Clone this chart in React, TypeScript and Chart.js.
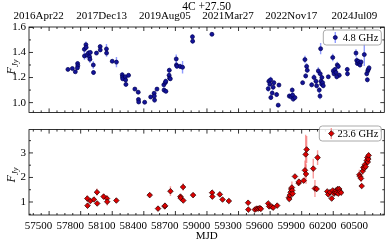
import React, { useEffect, useRef } from 'react';
import { Chart, registerables } from 'chart.js';
Chart.register(...registerables);

const TITLE = '4C +27.50';
const X_TITLE = 'MJD';
const Y_TITLE_MAIN = 'F';
const Y_TITLE_SUB = 'Jy';
const X_MIN = 57409;
const X_MAX = 60785;
const BOTTOM_X_TICKS = [57500, 57800, 58100, 58400, 58700, 59000, 59300, 59600, 59900, 60200, 60500];
const TOP_X_TICKS = [57500, 58100, 58700, 59300, 59900, 60500];
const TOP_X_LABELS = ['2016Apr22', '2017Dec13', '2019Aug05', '2021Mar27', '2022Nov17', '2024Jul09'];
const LOW_Y_TICKS = [1.0, 1.2, 1.4, 1.6];
const HIGH_Y_TICKS = [1, 2, 3];
const LOW_LABEL = '4.8 GHz';
const HIGH_LABEL = '23.6 GHz';

const lowMjd = [
  57779, 57821, 57849, 57871, 57873, 57869, 57935, 57936, 57950, 57952, 57960, 57975, 57985, 57988, 57992,
  58020, 58022, 58050, 58085, 58086, 58145, 58146, 58200, 58240, 58295, 58297, 58299, 58325, 58327, 58330,
  58355, 58415, 58447, 58449, 58451, 58508, 58565, 58598, 58600, 58602, 58625, 58690, 58692, 58705, 58708,
  58710, 58740, 58742, 58745, 58752, 58808, 58810, 58815, 58845, 58868, 58962, 58964, 59147,
  59688, 59705, 59682, 59698, 59720, 59729, 59736, 59707, 59762, 59784, 59777,
  59882, 59898, 59910, 59914, 59920, 59936,
  60009, 60031, 60038, 60047, 60053, 60095, 60117, 60136, 60142, 60158, 60167, 60174, 60180, 60183, 60190,
  60199, 60205, 60176, 60192, 60253, 60295, 60300, 60307, 60316, 60326, 60338, 60348, 60357, 60333,
  60433, 60435, 60516, 60523, 60529, 60538, 60548, 60554, 60564, 60595, 60618, 60628, 60633, 60640, 60624,
];
const lowFlux = [
  1.265, 1.272, 1.246, 1.312, 1.294, 1.277, 1.425, 1.372, 1.462, 1.44, 1.38, 1.395, 1.365, 1.345, 1.40,
  1.30, 1.24, 1.395, 1.447, 1.42, 1.428, 1.395, 1.33, 1.323, 1.222, 1.205, 1.19, 1.205, 1.18, 1.145,
  1.218, 1.108, 1.083, 1.025, 1.005, 1.003, 1.045, 1.075, 1.052, 1.02, 1.108, 1.142, 1.1, 1.16, 1.17,
  1.09, 1.218, 1.258, 1.195, 1.19, 1.348, 1.30, 1.29, 1.289, 1.282, 1.525, 1.49, 1.545,
  1.17, 1.182, 1.111, 1.147, 1.076, 1.123, 1.159, 1.04, 1.064, 1.14, 0.98,
  1.052, 1.048, 1.1, 1.06, 1.028, 1.04,
  1.159, 1.343, 1.213, 1.289, 1.258, 1.142, 1.201, 1.17, 1.135, 1.253, 1.1, 1.052, 1.43, 1.17, 1.147,
  1.159, 1.135, 1.23, 1.2, 1.206, 1.36, 1.253, 1.23, 1.265, 1.241, 1.3, 1.289, 1.218, 1.206,
  1.265, 1.23, 1.395, 1.336, 1.312, 1.329, 1.312, 1.3, 1.324, 1.383, 1.23, 1.253, 1.265, 1.277, 1.182,
];
const lowErr = [
  0.012, 0.01, 0.012, 0.015, 0.015, 0.012, 0.025, 0.03, 0.025, 0.02, 0.03, 0.025, 0.03, 0.03, 0.02,
  0.03, 0.02, 0.015, 0.015, 0.015, 0.04, 0.03, 0.015, 0.04, 0.02, 0.02, 0.015, 0.02, 0.02, 0.015,
  0.015, 0.01, 0.015, 0.015, 0.012, 0.012, 0.015, 0.015, 0.02, 0.02, 0.015, 0.02, 0.02, 0.02, 0.02,
  0.015, 0.025, 0.02, 0.02, 0.015, 0.035, 0.025, 0.02, 0.02, 0.05, 0.02, 0.02, 0.015,
  0.025, 0.025, 0.025, 0.02, 0.02, 0.025, 0.02, 0.02, 0.02, 0.015, 0.015,
  0.02, 0.025, 0.02, 0.02, 0.02, 0.015,
  0.015, 0.03, 0.02, 0.025, 0.02, 0.02, 0.025, 0.025, 0.02, 0.03, 0.025, 0.025, 0.045, 0.02, 0.02,
  0.02, 0.02, 0.02, 0.02, 0.015, 0.03, 0.02, 0.02, 0.02, 0.02, 0.025, 0.02, 0.02, 0.02,
  0.02, 0.02, 0.03, 0.025, 0.02, 0.02, 0.02, 0.02, 0.02, 0.09, 0.02, 0.02, 0.02, 0.02, 0.02,
];

const highMjd = [
  57963, 57965, 57992, 58026, 58055, 58057, 58118, 58150, 58152, 58239, 58556, 58635, 58699, 58701, 58753,
  58848, 58850, 58873, 58875, 58968, 59149, 59151, 59222, 59248, 59308, 59491, 59493, 59555, 59571, 59587,
  59603, 59612, 59682, 59691, 59714, 59729, 59767, 59879, 59882, 59888, 59895, 59901, 59907, 59910, 59914,
  59936, 59971, 59974, 60019, 60031, 60038, 60047, 60041, 60110, 60126, 60142, 60151, 60243, 60253, 60269,
  60285, 60295, 60307, 60317, 60326, 60333, 60342, 60348, 60357, 60364, 60374, 60548, 60554, 60564, 60570,
  60580, 60586, 60595, 60602, 60608, 60618, 60624, 60628, 60633, 60636,
];
const highFlux = [
  1.14, 0.85, 1.04, 1.10, 1.40, 0.94, 1.22, 1.14, 1.01, 1.06, 1.28, 0.73, 0.82, 0.85, 1.44,
  1.22, 1.16, 1.61, 1.06, 1.28, 1.38, 1.22, 1.31, 1.10, 1.04, 0.97, 0.69, 0.69, 0.73, 0.73,
  0.75, 0.72, 0.94, 0.82, 0.816, 0.77, 0.853, 1.18, 1.12, 1.28, 1.40, 1.53, 1.59, 1.47, 1.34,
  2.04, 1.77, 1.83, 1.87, 2.29, 2.94, 3.14, 2.14, 2.36, 1.55, 1.53, 2.81, 1.43, 1.31, 1.40,
  1.14, 1.47, 1.34, 1.40, 1.47, 1.38, 1.53, 1.34, 1.53, 1.43, 1.38, 2.11, 2.04, 1.96, 1.65,
  2.26, 2.41, 2.38, 2.53, 2.44, 2.69, 2.81, 2.63, 2.75, 2.90,
];
const highErr = [
  0.12, 0.10, 0.06, 0.08, 0.15, 0.08, 0.12, 0.15, 0.15, 0.10, 0.05, 0.05, 0.05, 0.06, 0.20,
  0.08, 0.07, 0.15, 0.08, 0.05, 0.08, 0.06, 0.06, 0.05, 0.05, 0.10, 0.05, 0.05, 0.05, 0.05,
  0.05, 0.04, 0.06, 0.05, 0.05, 0.04, 0.05, 0.08, 0.08, 0.10, 0.12, 0.15, 0.25, 0.15, 0.12,
  0.06, 0.07, 0.06, 0.06, 0.40, 0.80, 0.55, 0.40, 0.40, 0.35, 0.10, 0.30, 0.06, 0.06, 0.05,
  0.06, 0.06, 0.05, 0.05, 0.05, 0.05, 0.05, 0.05, 0.05, 0.05, 0.05, 0.20, 0.15, 0.15, 0.10,
  0.15, 0.15, 0.12, 0.12, 0.10, 0.12, 0.12, 0.10, 0.10, 0.12,
];

const FONT_FAMILY = "'Liberation Serif', 'Times New Roman', serif";

type PanelOpts = {
  yMinor: number;
  yMajor: number;
  legendW: number;
  legendTop: number;
  ylabelY: number;
  showTitle: boolean;
  markerColor: string;
  markerEdge: string;
  errColor: string;
  diamond: boolean;
  radius: number;
};

function drawMarker(ctx: CanvasRenderingContext2D, x: number, y: number, o: PanelOpts) {
  ctx.beginPath();
  if (o.diamond) {
    const r = o.radius;
    ctx.moveTo(x, y - r); ctx.lineTo(x + r, y); ctx.lineTo(x, y + r); ctx.lineTo(x - r, y); ctx.closePath();
  } else {
    ctx.arc(x, y, o.radius, 0, Math.PI * 2);
  }
  ctx.fillStyle = o.markerColor; ctx.fill();
  ctx.strokeStyle = o.markerEdge; ctx.lineWidth = 0.7; ctx.stroke();
}

function panelPlugin(o: PanelOpts) {
  return {
    id: 'panelDecor',
    beforeDatasetsDraw(chart: any) {
      const { ctx, chartArea: a } = chart;
      ctx.save();
      ctx.beginPath();
      ctx.rect(a.left, a.top, a.right - a.left, a.bottom - a.top);
      ctx.clip();
      ctx.strokeStyle = o.errColor;
      ctx.lineWidth = 1.4;
      chart.data.datasets.forEach((ds: any, i: number) => {
        const meta = chart.getDatasetMeta(i);
        const ys = chart.scales[meta.yAxisID];
        ds.data.forEach((p: any, j: number) => {
          const e = ds.errors[j];
          const x = meta.data[j].x;
          ctx.beginPath();
          ctx.moveTo(x, ys.getPixelForValue(p.y - e));
          ctx.lineTo(x, ys.getPixelForValue(p.y + e));
          ctx.stroke();
        });
      });
      ctx.restore();
    },
    afterDraw(chart: any) {
      const { ctx, chartArea: a, scales } = chart;
      const xs = scales.x, ys = scales.y;
      ctx.save();
      ctx.strokeStyle = '#000';
      ctx.lineWidth = 0.8;
      ctx.strokeRect(a.left, a.top, a.right - a.left, a.bottom - a.top);
      ctx.beginPath();
      for (let k = Math.ceil(xs.min / 75); k * 75 <= xs.max; k++) {
        const v = k * 75;
        const px = xs.getPixelForValue(v);
        const len = v % 300 === 0 ? 4 : 2;
        ctx.moveTo(px, a.bottom); ctx.lineTo(px, a.bottom - len);
        ctx.moveTo(px, a.top); ctx.lineTo(px, a.top + len);
      }
      const ratio = Math.round(o.yMajor / o.yMinor);
      for (let k = Math.ceil(ys.min / o.yMinor - 1e-6); k * o.yMinor <= ys.max + 1e-9; k++) {
        const py = ys.getPixelForValue(k * o.yMinor);
        const len = k % ratio === 0 ? 4 : 2;
        ctx.moveTo(a.left, py); ctx.lineTo(a.left + len, py);
        ctx.moveTo(a.right, py); ctx.lineTo(a.right - len, py);
      }
      ctx.stroke();

      // legend
      const ds = chart.data.datasets[0];
      const bx = a.right - 3 - o.legendW, by = o.legendTop, bw = o.legendW, bh = 15;
      ctx.beginPath();
      if (ctx.roundRect) ctx.roundRect(bx, by, bw, bh, 3); else ctx.rect(bx, by, bw, bh);
      ctx.fillStyle = 'rgba(255,255,255,0.85)';
      ctx.fill();
      ctx.strokeStyle = '#a0a0a0';
      ctx.lineWidth = 0.9;
      ctx.stroke();
      const mx = bx + 12, my = by + bh / 2;
      ctx.strokeStyle = o.errColor; ctx.lineWidth = 1.4;
      ctx.beginPath(); ctx.moveTo(mx, my - 5.5); ctx.lineTo(mx, my + 5.5); ctx.stroke();
      drawMarker(ctx, mx, my, o);
      ctx.fillStyle = '#000';
      ctx.font = `10.5px ${FONT_FAMILY}`;
      ctx.textAlign = 'right';
      ctx.textBaseline = 'middle';
      ctx.fillText(ds.label, bx + bw - 3, my + 0.5);

      // y label
      ctx.save();
      ctx.translate(11, o.ylabelY);
      ctx.rotate(-Math.PI / 2);
      ctx.font = `italic 12px ${FONT_FAMILY}`;
      const wF = ctx.measureText(Y_TITLE_MAIN).width;
      ctx.font = `italic 8.5px ${FONT_FAMILY}`;
      const wS = ctx.measureText(Y_TITLE_SUB).width;
      const x0 = -(wF + wS) / 2;
      ctx.textAlign = 'left';
      ctx.textBaseline = 'alphabetic';
      ctx.font = `italic 12px ${FONT_FAMILY}`;
      ctx.fillText(Y_TITLE_MAIN, x0, 4);
      ctx.font = `italic 8.5px ${FONT_FAMILY}`;
      ctx.fillText(Y_TITLE_SUB, x0 + wF, 7);
      ctx.restore();

      if (o.showTitle) {
        ctx.font = `11.5px ${FONT_FAMILY}`;
        ctx.textAlign = 'center';
        ctx.textBaseline = 'middle';
        ctx.fillText(TITLE, (a.left + a.right) / 2, 7);
      }
      ctx.restore();
    },
  };
}

const tickFont = { family: FONT_FAMILY, size: 11 };

function makeConfig(isTop: boolean): any {
  const o: PanelOpts = isTop
    ? { yMinor: 0.1, yMajor: 0.2, legendW: 58, legendTop: 30, ylabelY: 67, showTitle: true, markerColor: '#14149a', markerEdge: '#000050', errColor: 'rgba(70,90,255,0.6)', diamond: false, radius: 2.0 }
    : { yMinor: 0.5, yMajor: 1, legendW: 62, legendTop: 126 - 120, ylabelY: 175 - 120, showTitle: false, markerColor: '#dd0000', markerEdge: '#200000', errColor: 'rgba(245,90,90,0.6)', diamond: true, radius: 2.8 };
  const mjd = isTop ? lowMjd : highMjd;
  const flux = isTop ? lowFlux : highFlux;
  const err = isTop ? lowErr : highErr;
  const xTicks = isTop ? TOP_X_TICKS : BOTTOM_X_TICKS;
  const yTicks = isTop ? LOW_Y_TICKS : HIGH_Y_TICKS;
  return {
    type: 'scatter',
    data: {
      datasets: [
        {
          label: isTop ? LOW_LABEL : HIGH_LABEL,
          data: mjd.map((x, i) => ({ x, y: flux[i] })),
          errors: err,
          showLine: false,
          pointStyle: isTop ? 'circle' : 'rectRot',
          pointRadius: o.radius,
          backgroundColor: o.markerColor,
          borderColor: o.markerEdge,
          borderWidth: 0.7,
        },
      ],
    },
    options: {
      animation: false,
      responsive: false,
      events: [],
      layout: { padding: isTop ? { left: 0, right: 4.5, top: 0, bottom: 1 } : { left: 0, right: 4.5, top: 1, bottom: 0 } },
      plugins: { legend: { display: false }, tooltip: { enabled: false }, title: { display: false } },
      scales: {
        x: {
          type: 'linear',
          position: isTop ? 'top' : 'bottom',
          min: X_MIN,
          max: X_MAX,
          grid: { display: false, drawTicks: false },
          border: { display: false },
          ticks: {
            font: tickFont,
            color: '#000',
            padding: isTop ? 4 : 5,
            maxRotation: 0,
            autoSkip: false,
            callback: (v: number) => (isTop ? TOP_X_LABELS[TOP_X_TICKS.indexOf(v)] : String(v)),
          },
          title: isTop
            ? { display: false }
            : { display: true, text: X_TITLE, font: { family: FONT_FAMILY, size: 11 }, color: '#000', padding: 0 },
          afterBuildTicks: (s: any) => { s.ticks = xTicks.map((v) => ({ value: v })); },
          afterFit: (s: any) => { s.height = isTop ? 27 : 28; },
        },
        y: {
          type: 'linear',
          position: 'left',
          min: isTop ? 0.922 : 0.47,
          max: isTop ? 1.603 : 3.95,
          grid: { display: false, drawTicks: false },
          border: { display: false },
          ticks: {
            font: tickFont,
            color: '#000',
            padding: 3,
            callback: (v: number) => (isTop ? v.toFixed(1) : String(v)),
          },
          afterBuildTicks: (s: any) => { s.ticks = yTicks.map((v) => ({ value: v })); },
          afterFit: (s: any) => { s.width = 29; },
        },
      },
    },
    plugins: [panelPlugin(o)],
  };
}

export default function App() {
  const topRef = useRef<HTMLCanvasElement>(null);
  const botRef = useRef<HTMLCanvasElement>(null);
  useEffect(() => {
    document.body.style.margin = '0';
    const c1 = new Chart(topRef.current as HTMLCanvasElement, makeConfig(true));
    const c2 = new Chart(botRef.current as HTMLCanvasElement, makeConfig(false));
    return () => { c1.destroy(); c2.destroy(); };
  }, []);
  return (
    <div style={{ position: 'relative', width: 389, height: 243, background: '#fff' }}>
      <canvas ref={topRef} width={389} height={122} style={{ position: 'absolute', left: 0, top: 0 }} />
      <canvas ref={botRef} width={389} height={123} style={{ position: 'absolute', left: 0, top: 120 }} />
    </div>
  );
}
